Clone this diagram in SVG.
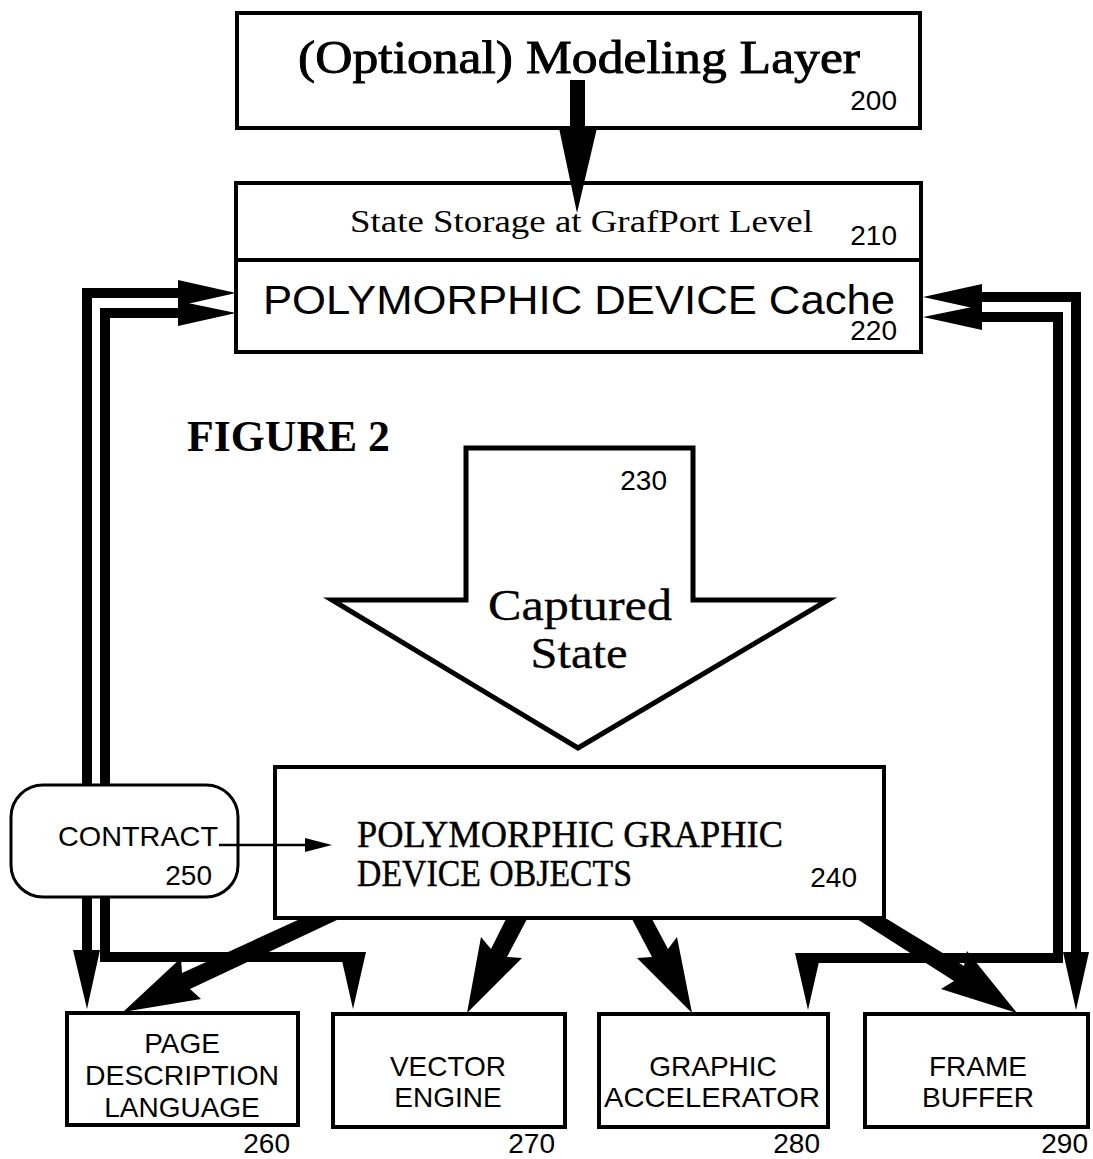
<svg xmlns="http://www.w3.org/2000/svg" width="1093" height="1159" viewBox="0 0 1093 1159">
<style>
  .box { fill: #fff; stroke: #000; stroke-width: 4; }
  .line { fill: none; stroke: #000; stroke-width: 10; stroke-linejoin: miter; stroke-linecap: butt; }
  .solid { fill: #000; stroke: none; }
  .serif { font-family: "Liberation Serif", "DejaVu Serif", serif; fill: #000; }
  .sans { font-family: "Liberation Sans", Arial, sans-serif; fill: #000; }
  .num { font-family: "Liberation Sans", Arial, sans-serif; font-size: 28px; fill: #000; }
  .lbl { font-family: "Liberation Sans", Arial, sans-serif; font-size: 28px; fill: #000; text-anchor: middle; }
</style>
<rect width="1093" height="1159" fill="#fff"/>

<g id="connectors">
  <!-- left loop (interrupted by the CONTRACT box) -->
  <polyline class="line" points="180,293 87,293 87,786"/>
  <polyline class="line" points="87,896 87,952"/>
  <polygon class="solid" points="178,280 236,293 178,306"/>
  <polygon class="solid" points="73,950 87,1009 100,950"/>
  <polyline class="line" points="180,313 105,313 105,786"/>
  <polyline class="line" points="105,896 105,957 352,957"/>
  <polygon class="solid" points="178,301 236,313 178,326"/>
  <polygon class="solid" points="340,952 353,1009 366,952"/>
  <!-- right loop -->
  <polyline class="line" points="980,297 1076,297 1076,952"/>
  <polygon class="solid" points="982,284 923,297 982,310"/>
  <polygon class="solid" points="1063,952 1076,1010 1089,952"/>
  <polyline class="line" points="980,317 1058,317 1058,958 808,958"/>
  <polygon class="solid" points="982,305 923,317 982,330"/>
  <polygon class="solid" points="795,953 808,1010 821,953"/>
  <!-- thick diagonal arrows from 240 -->
  <polygon class="solid" points="300,919 182,973 181,958 123,1012 201,999 190,989 339,919"/>
  <polygon class="solid" points="506,919 491,949 481,937 467,1013 522,958 507,957 527,919"/>
  <polygon class="solid" points="632,919 652,957 637,958 692,1013 677,937 668,949 652,919"/>
  <polygon class="solid" points="857,919 954,981 941,989 1017,1013 967,951 964,966 887,919"/>
  <!-- contract arrow -->
  <line x1="219" y1="845" x2="310" y2="845" stroke="#000" stroke-width="2.5"/>
  <polygon class="solid" points="305,838 332,845 305,852"/>
</g>

<g id="node-240">
  <rect x="275" y="767" width="609" height="151" fill="none" stroke="#000" stroke-width="4"/>
  <text class="serif" x="357" y="847" font-size="38" stroke="#000" stroke-width="0.4" textLength="426" lengthAdjust="spacingAndGlyphs">POLYMORPHIC GRAPHIC</text>
  <text class="serif" x="357" y="886" font-size="38" stroke="#000" stroke-width="0.4" textLength="275" lengthAdjust="spacingAndGlyphs">DEVICE OBJECTS</text>
  <text class="num" x="857" y="887" text-anchor="end">240</text>
</g>

<g id="node-250">
  <rect x="11" y="785" width="227" height="112" rx="32" ry="32" fill="none" stroke="#000" stroke-width="3"/>
  <text class="sans" x="58" y="846" font-size="28" textLength="160" lengthAdjust="spacingAndGlyphs">CONTRACT</text>
  <text class="num" x="212" y="885" text-anchor="end">250</text>
</g>

<g id="node-200">
  <rect class="box" x="237" y="13" width="683" height="115"/>
  <text class="serif" x="298" y="73" font-size="46" stroke="#000" stroke-width="0.9" textLength="562" lengthAdjust="spacingAndGlyphs">(Optional) Modeling Layer</text>
  <text class="num" x="897" y="110" text-anchor="end">200</text>
</g>

<g id="node-210-220">
  <rect class="box" x="236" y="183" width="685" height="169"/>
  <line x1="236" y1="260" x2="921" y2="260" stroke="#000" stroke-width="4"/>
  <text class="serif" x="350" y="232" font-size="31" textLength="463" lengthAdjust="spacingAndGlyphs">State Storage at GrafPort Level</text>
  <text class="num" x="897" y="245" text-anchor="end">210</text>
  <text class="sans" x="263" y="314" font-size="40" textLength="632" lengthAdjust="spacingAndGlyphs">POLYMORPHIC DEVICE Cache</text>
  <text class="num" x="897" y="340" text-anchor="end">220</text>
</g>

<g id="arrow-200-210">
  <rect class="solid" x="570" y="80" width="15" height="50"/>
  <polygon class="solid" points="559,128 577,213 597,128"/>
</g>

<g id="label-figure">
  <text class="serif" x="187" y="451" font-size="44" font-weight="bold" textLength="203" lengthAdjust="spacingAndGlyphs">FIGURE 2</text>
</g>

<g id="node-230">
  <polygon points="466,448 693,448 693,600 828,600 578,748 332,600 466,600" fill="#fff" stroke="#000" stroke-width="5" stroke-linejoin="miter"/>
  <text class="num" x="667" y="490" text-anchor="end">230</text>
  <text class="serif" x="580" y="620" font-size="45" stroke="#000" stroke-width="0.3" text-anchor="middle" textLength="184" lengthAdjust="spacingAndGlyphs">Captured</text>
  <text class="serif" x="579" y="668" font-size="45" stroke="#000" stroke-width="0.3" text-anchor="middle" textLength="97" lengthAdjust="spacingAndGlyphs">State</text>
</g>

<g id="node-260">
  <rect class="box" x="67" y="1013" width="231" height="112" stroke-width="3"/>
  <text class="lbl" x="182" y="1053">PAGE</text>
  <text class="lbl" x="182" y="1085" textLength="194" lengthAdjust="spacingAndGlyphs">DESCRIPTION</text>
  <text class="lbl" x="182" y="1117">LANGUAGE</text>
  <text class="num" x="290" y="1153" text-anchor="end">260</text>
</g>

<g id="node-270">
  <rect class="box" x="333" y="1014" width="232" height="113" stroke-width="3"/>
  <text class="lbl" x="448" y="1076">VECTOR</text>
  <text class="lbl" x="448" y="1107">ENGINE</text>
  <text class="num" x="555" y="1153" text-anchor="end">270</text>
</g>

<g id="node-280">
  <rect class="box" x="599" y="1014" width="229" height="113" stroke-width="3"/>
  <text class="lbl" x="713" y="1076">GRAPHIC</text>
  <text class="lbl" x="712" y="1107" textLength="216" lengthAdjust="spacingAndGlyphs">ACCELERATOR</text>
  <text class="num" x="820" y="1153" text-anchor="end">280</text>
</g>

<g id="node-290">
  <rect class="box" x="865" y="1014" width="223" height="113" stroke-width="3"/>
  <text class="lbl" x="978" y="1076">FRAME</text>
  <text class="lbl" x="978" y="1107">BUFFER</text>
  <text class="num" x="1088" y="1153" text-anchor="end">290</text>
</g>
</svg>
